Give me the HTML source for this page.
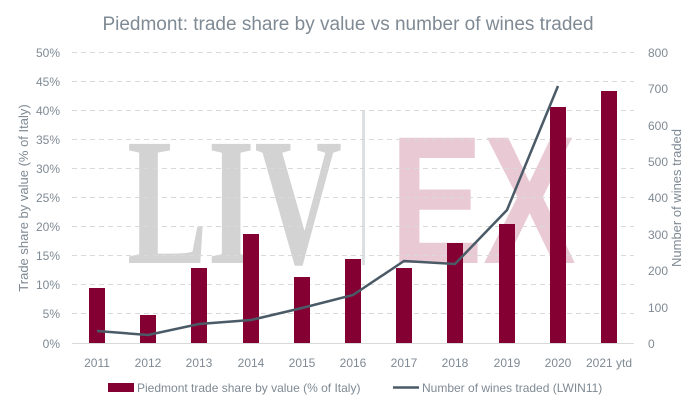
<!DOCTYPE html>
<html><head><meta charset="utf-8"><style>
body{margin:0;background:#fff}
svg{display:block;font-family:"Liberation Sans",sans-serif}
</style></head><body>
<svg width="696" height="411" viewBox="0 0 696 411" xmlns="http://www.w3.org/2000/svg">
<text x="348" y="30" text-anchor="middle" font-size="19" fill="#7f8a94">Piedmont: trade share by value vs number of wines traded</text>
<text x="127" y="263" font-family="Liberation Serif" font-weight="bold" font-size="182" fill="#d3d3d3" textLength="215" lengthAdjust="spacingAndGlyphs">LIV</text>
<rect x="362" y="110" width="3" height="155" fill="#dde0e2"/>
<text x="390" y="263" font-family="Liberation Sans" font-weight="bold" font-size="182" fill="#e9c9d3" textLength="186" lengthAdjust="spacingAndGlyphs">EX</text>
<g stroke="#d9d9d9" stroke-dasharray="5,4" stroke-width="1">
<line x1="72" x2="634" y1="52.5" y2="52.5"/><line x1="72" x2="634" y1="81.5" y2="81.5"/>
<line x1="72" x2="634" y1="110.5" y2="110.5"/><line x1="72" x2="634" y1="139.5" y2="139.5"/>
<line x1="72" x2="634" y1="168.5" y2="168.5"/><line x1="72" x2="634" y1="197.5" y2="197.5"/>
<line x1="72" x2="634" y1="226.5" y2="226.5"/><line x1="72" x2="634" y1="255.5" y2="255.5"/>
<line x1="72" x2="634" y1="284.5" y2="284.5"/><line x1="72" x2="634" y1="313.5" y2="313.5"/>
</g>
<line x1="72" x2="634" y1="343.5" y2="343.5" stroke="#d9d9d9"/>
<g fill="#840032">
<rect x="89" y="288" width="16" height="55"/>
<rect x="140" y="315" width="16" height="28"/>
<rect x="191" y="268" width="16" height="75"/>
<rect x="243" y="234" width="16" height="109"/>
<rect x="294" y="277" width="16" height="66"/>
<rect x="345" y="259" width="16" height="84"/>
<rect x="396" y="268" width="16" height="75"/>
<rect x="447" y="243" width="16" height="100"/>
<rect x="499" y="224" width="16" height="119"/>
<rect x="550" y="107" width="16" height="236"/>
<rect x="601" y="91" width="16" height="252"/>
</g>
<polyline fill="none" stroke="#4a5a66" stroke-width="2.5" points="97,331 148,335 199,324 251,320 302,308 353,295 404,261 455,264 507,210 558,86"/>
<g font-size="12" fill="#7f8a94" text-anchor="end">
<text x="60" y="57">50%</text><text x="60" y="86">45%</text><text x="60" y="115">40%</text>
<text x="60" y="144">35%</text><text x="60" y="173">30%</text><text x="60" y="202">25%</text>
<text x="60" y="231">20%</text><text x="60" y="260">15%</text><text x="60" y="289">10%</text>
<text x="60" y="318">5%</text><text x="60" y="348">0%</text>
</g>
<g font-size="12" fill="#7f8a94" text-anchor="start">
<text x="648" y="57">800</text><text x="648" y="93">700</text><text x="648" y="130">600</text>
<text x="648" y="166">500</text><text x="648" y="202">400</text><text x="648" y="239">300</text>
<text x="648" y="275">200</text><text x="648" y="312">100</text><text x="648" y="348">0</text>
</g>
<g font-size="12" fill="#7f8a94" text-anchor="middle">
<text x="97" y="367">2011</text><text x="148" y="367">2012</text><text x="199" y="367">2013</text>
<text x="251" y="367">2014</text><text x="302" y="367">2015</text><text x="353" y="367">2016</text>
<text x="404" y="367">2017</text><text x="455" y="367">2018</text><text x="507" y="367">2019</text>
<text x="558" y="367">2020</text><text x="609" y="367">2021 ytd</text>
</g>
<text transform="translate(28,198) rotate(-90)" text-anchor="middle" font-size="13" fill="#7f8a94">Trade share by value (% of Italy)</text>
<text transform="translate(681,198) rotate(-90)" text-anchor="middle" font-size="13" fill="#7f8a94">Number of wines traded</text>
<rect x="108" y="383" width="26" height="9" fill="#840032"/>
<text x="137" y="392" font-size="12" fill="#7f8a94">Piedmont trade share by value (% of Italy)</text>
<line x1="393" x2="419" y1="387.5" y2="387.5" stroke="#4a5a66" stroke-width="2.5"/>
<text x="422" y="392" font-size="12" fill="#7f8a94">Number of wines traded (LWIN11)</text>
</svg>
</body></html>
